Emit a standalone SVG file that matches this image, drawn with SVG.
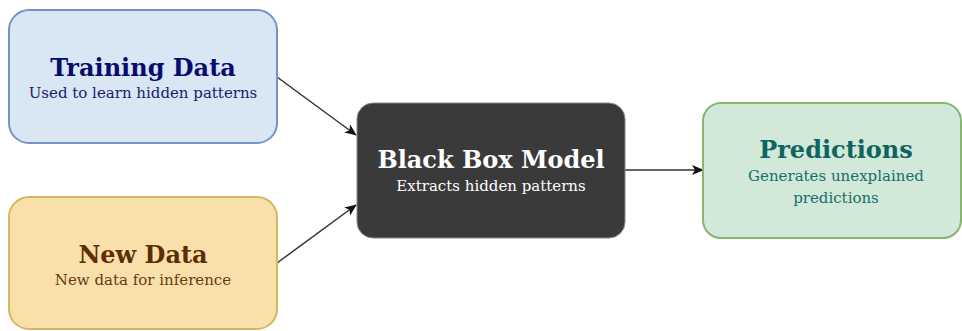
<svg xmlns="http://www.w3.org/2000/svg" width="962" height="331" viewBox="0 0 962 331">
  <defs>
    <marker id="arrow" viewBox="0 0 12 10" refX="11" refY="5" markerWidth="12" markerHeight="10" markerUnits="userSpaceOnUse" orient="auto">
      <path d="M0,0 L12,5 L0,10 L3,5 Z" fill="#111"/>
    </marker>
    <style>
      .title { font-family: "DejaVu Serif", "Liberation Serif", serif; font-weight: bold; font-size: 24px; text-anchor: middle; }
      .sub { font-family: "DejaVu Serif", "Liberation Serif", serif; font-size: 15px; text-anchor: middle; }
      .edge { stroke: #333; stroke-width: 1.5; fill: none; marker-end: url(#arrow); }
    </style>
  </defs>
  <rect width="962" height="331" fill="#ffffff"/>

  <g id="connectors">
    <line class="edge" x1="277" y1="77" x2="356" y2="135"/>
    <line class="edge" x1="277" y1="263" x2="356" y2="205"/>
    <line class="edge" x1="625" y1="170" x2="703" y2="170"/>
  </g>

  <g id="training-data">
    <rect x="9" y="10" width="268" height="133" rx="20" fill="#d9e7f5" stroke="#7594c6" stroke-width="2"/>
    <text class="title" x="143" y="76" fill="#0b0b6e">Training Data</text>
    <text class="sub" x="143" y="98" fill="#1a1a70">Used to learn hidden patterns</text>
  </g>

  <g id="new-data">
    <rect x="9" y="197" width="268" height="132" rx="20" fill="#f9e0ab" stroke="#d7b75e" stroke-width="2"/>
    <text class="title" x="143" y="263" fill="#5c2e05">New Data</text>
    <text class="sub" x="143" y="285" fill="#6b3a10">New data for inference</text>
  </g>

  <g id="black-box-model">
    <rect x="357" y="103" width="268" height="135" rx="16" fill="#3a3a3a" stroke="#8a8a8a" stroke-width="1"/>
    <text class="title" x="491" y="168" fill="#ffffff">Black Box Model</text>
    <text class="sub" x="491" y="191" fill="#ffffff">Extracts hidden patterns</text>
  </g>

  <g id="predictions">
    <rect x="703" y="103" width="258" height="135" rx="18" fill="#d2e8d8" stroke="#86b66e" stroke-width="2"/>
    <text class="title" x="836" y="158" fill="#0d6461">Predictions</text>
    <text class="sub" x="836" y="181" fill="#14706a">Generates unexplained</text>
    <text class="sub" x="836" y="203" fill="#14706a">predictions</text>
  </g>
</svg>
